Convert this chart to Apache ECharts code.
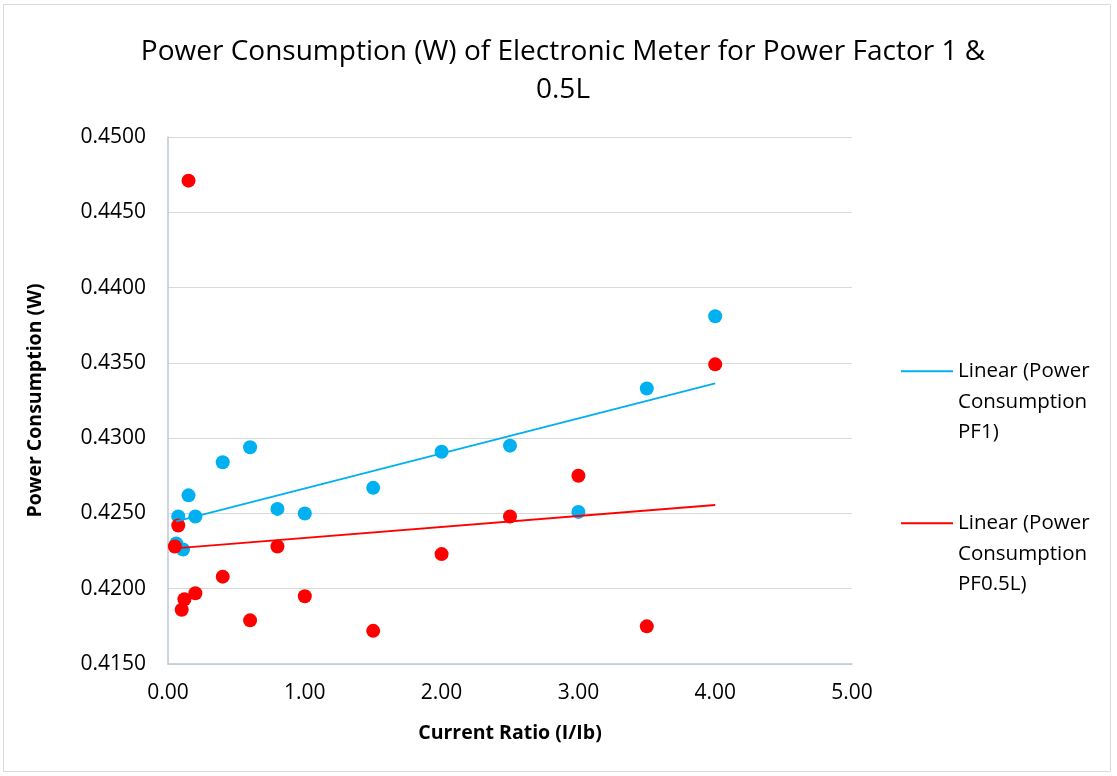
<!DOCTYPE html>
<html>
<head>
<meta charset="utf-8">
<script src="https://cdn.jsdelivr.net/npm/echarts@6/dist/echarts.min.js"></script>
<style>
  html, body { margin: 0; padding: 0; background: #ffffff; }
  #chart { width: 1117px; height: 776px; }
</style>
</head>
<body>
<div id="chart"></div>
<script>
// Current ratio (I/Ib) and measured power consumption (W)
var pf1Ratio = [0.06, 0.075, 0.11, 0.15, 0.2, 0.4, 0.6, 0.8, 1.0, 1.5, 2.0, 2.5, 3.0, 3.5, 4.0];
var pf1Power = [0.4230, 0.4248, 0.4226, 0.4262, 0.4248, 0.4284, 0.4294, 0.4253, 0.4250, 0.4267, 0.4291, 0.4295, 0.4251, 0.4333, 0.4381];

var pf05Ratio = [0.05, 0.075, 0.1, 0.12, 0.15, 0.2, 0.4, 0.6, 0.8, 1.0, 1.5, 2.0, 2.5, 3.0, 3.5, 4.0];
var pf05Power = [0.4228, 0.4242, 0.4186, 0.4193, 0.4471, 0.4197, 0.4208, 0.4179, 0.4228, 0.4195, 0.4172, 0.4223, 0.4248, 0.4275, 0.4175, 0.4349];

var xTicks = { min: 0, max: 5, step: 1 };
var yTicks = { min: 0.415, max: 0.45, step: 0.005 };

var seriesNames = ['Power Consumption PF1', 'Power Consumption PF0.5L'];
var trendNames = ['Linear (Power\nConsumption\nPF1)', 'Linear (Power\nConsumption\nPF0.5L)'];

var BLUE = '#00B0F0';
var RED = '#FF0000';
var FONT = 'Open Sans';

function pairs(xs, ys) {
  return xs.map(function (x, i) { return [x, ys[i]]; });
}

// Least-squares linear trendline spanning the series' x range
function linearTrend(xs, ys) {
  var n = xs.length, sx = 0, sy = 0, sxx = 0, sxy = 0;
  for (var i = 0; i < n; i++) {
    sx += xs[i]; sy += ys[i]; sxx += xs[i] * xs[i]; sxy += xs[i] * ys[i];
  }
  var slope = (n * sxy - sx * sy) / (n * sxx - sx * sx);
  var icpt = (sy - slope * sx) / n;
  var x0 = Math.min.apply(null, xs), x1 = Math.max.apply(null, xs);
  return [[x0, icpt + slope * x0], [x1, icpt + slope * x1]];
}

var chart = echarts.init(document.getElementById('chart'), null, { renderer: 'canvas' });

// Legend entries: the line key sits beside the first line of a three-line label
function legendBlock(name, top) {
  return {
    data: [{ name: name, icon: 'rect' }],
    orient: 'vertical', left: 901, top: top, padding: 0,
    itemWidth: 52, itemHeight: 2, itemGap: 0,
    selectedMode: false,
    formatter: function (n) { return '\n\n' + n; },
    textStyle: { fontFamily: FONT, fontSize: 20.5, color: '#000', lineHeight: 30.5 }
  };
}

chart.setOption({
  animation: false,
  backgroundColor: '#ffffff',
  title: {
    text: 'Power Consumption (W) of Electronic Meter for Power Factor 1 &\n0.5L',
    left: 563, top: 33, textAlign: 'center', padding: 0,
    textStyle: { fontFamily: FONT, fontSize: 28, fontWeight: 'normal', color: '#000', lineHeight: 38 }
  },
  graphic: [{
    type: 'rect', silent: true, z: -10,
    shape: { x: 3.5, y: 4.5, width: 1107, height: 767 },
    style: { fill: 'none', stroke: '#d9d9d9', lineWidth: 1 }
  }],
  legend: [legendBlock(trendNames[0], 295), legendBlock(trendNames[1], 447)],
  grid: { left: 168, right: 265, top: 137, bottom: 112 },
  xAxis: {
    type: 'value', min: xTicks.min, max: xTicks.max, interval: xTicks.step,
    name: 'Current Ratio (I/Ib)', nameLocation: 'middle', nameGap: 59,
    nameTextStyle: { fontFamily: FONT, fontSize: 19.5, fontWeight: 'bold', color: '#000' },
    axisLine: { show: true, lineStyle: { color: '#bfc7d5', width: 1.5 } },
    axisTick: { show: false },
    splitLine: { show: false },
    axisLabel: {
      fontFamily: FONT, fontSize: 21, color: '#000', margin: 19,
      formatter: function (v) { return v.toFixed(2); }
    }
  },
  yAxis: {
    type: 'value', min: yTicks.min, max: yTicks.max, interval: yTicks.step,
    name: 'Power Consumption (W)', nameLocation: 'middle', nameGap: 123, nameRotate: 90,
    nameTextStyle: { fontFamily: FONT, fontSize: 19.5, fontWeight: 'bold', color: '#000' },
    axisLine: { show: true, lineStyle: { color: '#bfc7d5', width: 1.5 } },
    axisTick: { show: false },
    splitLine: { show: true, lineStyle: { color: '#d9d9d9', width: 1 } },
    axisLabel: {
      fontFamily: FONT, fontSize: 21, color: '#000', margin: 22,
      formatter: function (v) { return v.toFixed(4); }
    }
  },
  series: [
    {
      name: seriesNames[0], type: 'scatter', symbolSize: 14, z: 3,
      itemStyle: { color: BLUE, opacity: 1 },
      data: pairs(pf1Ratio, pf1Power)
    },
    {
      name: seriesNames[1], type: 'scatter', symbolSize: 14, z: 4,
      itemStyle: { color: RED, opacity: 1 },
      data: pairs(pf05Ratio, pf05Power)
    },
    {
      name: trendNames[0], type: 'line', symbol: 'none', z: 5,
      lineStyle: { color: BLUE, width: 1.8 }, itemStyle: { color: BLUE },
      data: linearTrend(pf1Ratio, pf1Power)
    },
    {
      name: trendNames[1], type: 'line', symbol: 'none', z: 5,
      lineStyle: { color: RED, width: 1.8 }, itemStyle: { color: RED },
      data: linearTrend(pf05Ratio, pf05Power)
    }
  ]
});
</script>
</body>
</html>
